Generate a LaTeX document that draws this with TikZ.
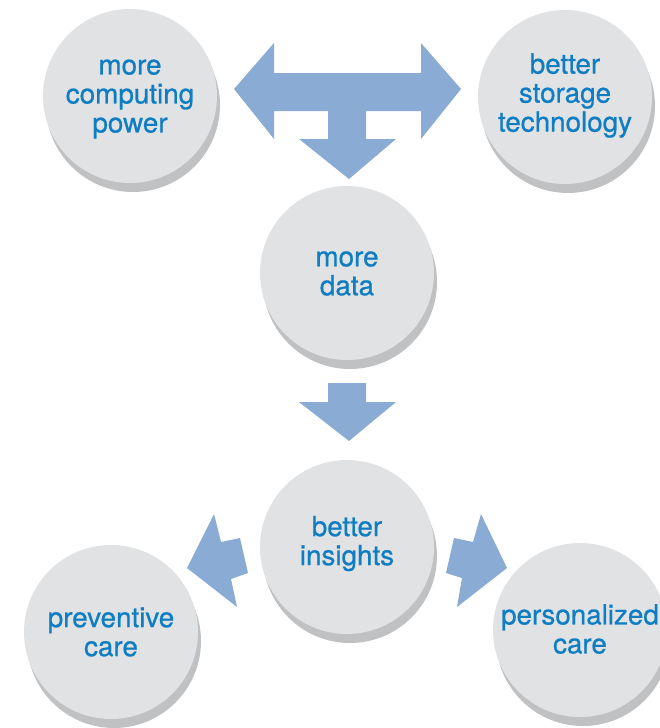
\documentclass[tikz,border=0pt]{standalone}
\usepackage{fontspec}
\setmainfont{TeX Gyre Heros}
\newfontfamily\coinfont[FakeBold=0.7]{TeX Gyre Heros}
\definecolor{face}{HTML}{E1E2E4}
\definecolor{shade}{HTML}{C0C1C3}
\definecolor{arrowblue}{HTML}{8AABD4}
\definecolor{txtblue}{HTML}{0E7DC2}
\begin{document}
\begin{tikzpicture}[x=1pt,y=-1pt,
  coin/.style={circle, fill=face, minimum size=174pt, inner sep=0pt},
  coinshadow/.style={circle, fill=shade, minimum size=174pt, inner sep=0pt},
  coinlabel/.style={text=txtblue, align=center, inner sep=0pt,
    font=\coinfont\fontsize{27.8}{29}\selectfont},
  bigarrow/.style={fill=arrowblue, draw=none}]
\useasboundingbox (0,0) rectangle (660,728);
\clip (0,0) rectangle (660,728);
% shadows
\foreach \x/\y in {130/96, 565/97, 347/273, 347/547, 111/632, 580/630}
  \node[coinshadow] at (\x+3,\y+9) {};
% circles
\node[coin] (power) at (130,96) {};
\node[coin] (storage) at (565,97) {};
\node[coin] (data) at (347,273) {};
\node[coin] (insights) at (347,547) {};
\node[coin] (prev) at (111,632) {};
\node[coin] (pers) at (580,630) {};
% labels
\node[coinlabel] (tpower) at (130,99) {more\\computing\\power};
\node[coinlabel] (tstorage) at (565,95.5) {better\\storage\\technology};
\node[coinlabel] (tdata) at (347,273.5) {more\\data};
\node[coinlabel] (tinsights) at (347,543.5) {better\\insights};
\node[coinlabel] (tprev) at (111,632) {preventive\\care};
\node[coinlabel] (tpers) at (580,629) {personalized\\care};
% arrows
\fill[bigarrow] (234,89) -- (274,43) -- (274,73) -- (421,73) -- (421,43) -- (461,89)
  -- (421,139) -- (421,111) -- (366,111) -- (366,139) -- (396,139) -- (349,179)
  -- (299,139) -- (328,139) -- (328,111) -- (274,111) -- (274,139) -- cycle;
\fill[bigarrow] (328,383) -- (366,383) -- (366,402) -- (396,402) -- (349,441)
  -- (299,402) -- (328,402) -- cycle;
\fill[bigarrow] (187,568) -- (214,514) -- (221,542) -- (240,538) -- (248,573)
  -- (231,579) -- (237,607) -- cycle;
\fill[bigarrow] (507,568) -- (481,514) -- (473,542) -- (454,538) -- (446,573)
  -- (462,578) -- (457,607) -- cycle;
\end{tikzpicture}
\end{document}
